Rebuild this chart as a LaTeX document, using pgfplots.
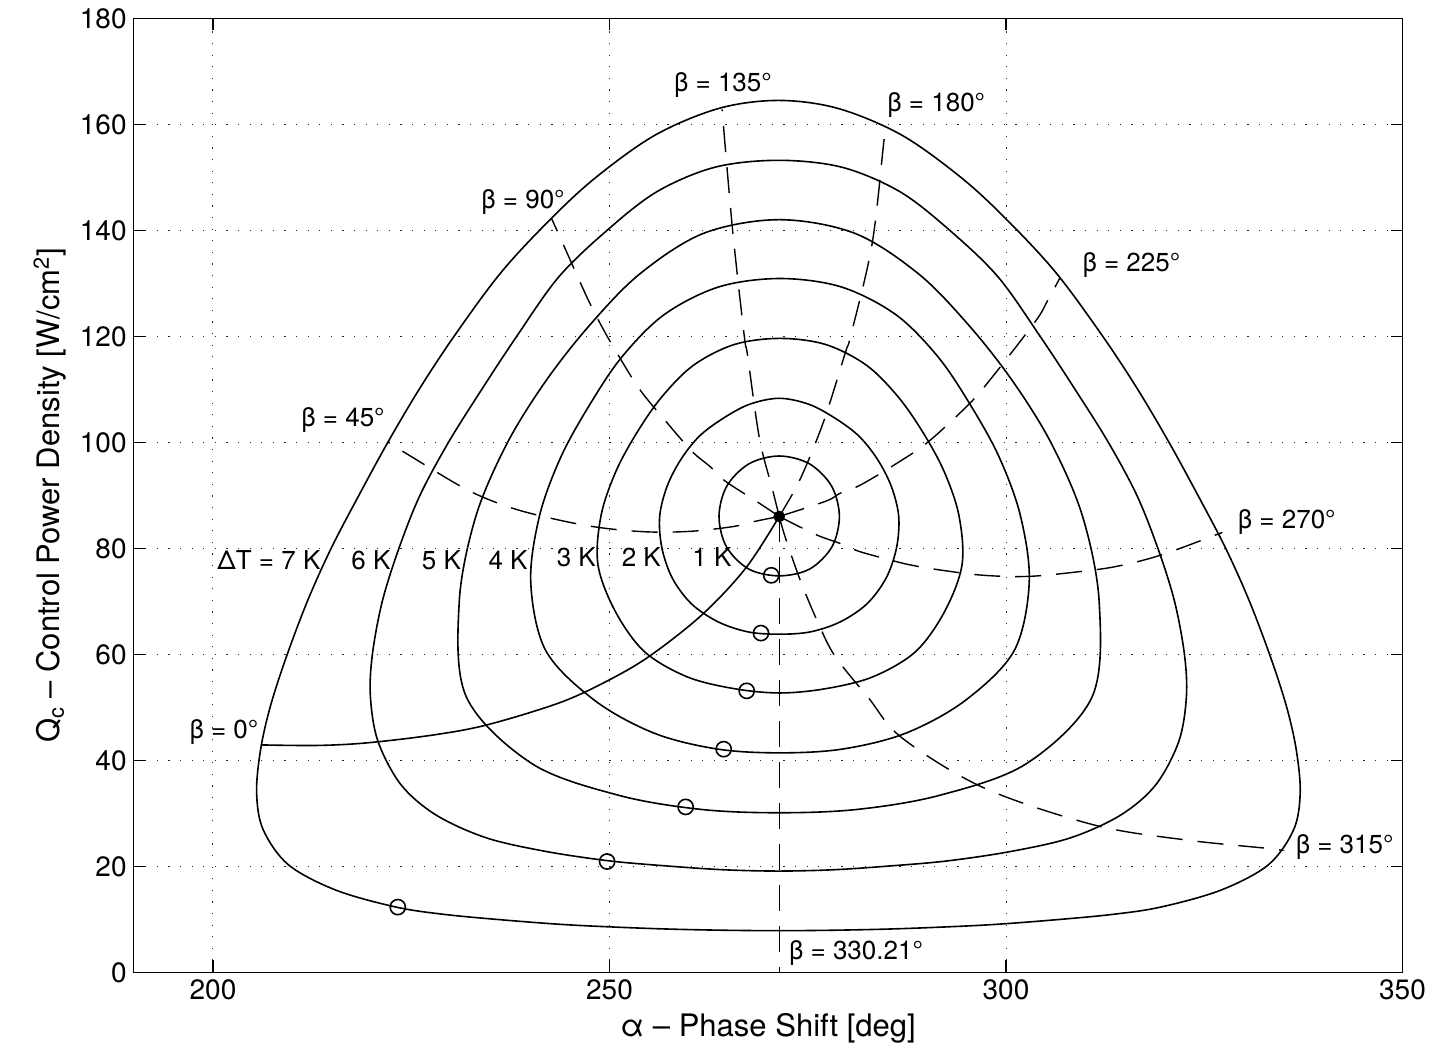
\documentclass[border=0pt]{standalone}
\usepackage{fontspec}
\setmainfont{TeX Gyre Heros}
\usepackage{pgfplots}
\pgfplotsset{compat=1.18}
\pgfplotsset{
  contour/.style={black, line width=0.8pt, smooth cycle, tension=0.55, mark=none},
  openline/.style={black, line width=0.8pt, smooth, tension=0.55, mark=none},
  betaline/.style={black, line width=0.7pt, smooth, tension=0.55, mark=none, dash pattern=on 13pt off 7.5pt},
}
\tikzset{lbl/.style={font=\fontsize{13}{15}\selectfont, inner sep=0pt, anchor=base west}}
\begin{document}
\begin{tikzpicture}
\begin{axis}[
  at={(0pt,0pt)}, anchor=south west,
  scale only axis, width=634.4pt, height=477pt,
  xmin=190, xmax=350, ymin=0, ymax=180,
  xtick={200,250,300,350}, ytick={0,20,...,180},
  tick align=inside, major tick length=6pt,
  grid=major,
  major grid style={black!85, line width=0.5pt, dash pattern=on 0.6pt off 5.2pt},
  axis line style={line width=0.6pt},
  tick style={line width=0.6pt, black},
  /pgf/number format/assume math mode=true,
  tick label style={font=\fontsize{14}{16}\selectfont},
  label style={font=\fontsize{15.5}{18}\selectfont},
  xlabel={α – Phase Shift [deg]},
  ylabel={Q\textsubscript{c} – Control Power Density [W/cm\textsuperscript{2}]},
  clip=false,
]
% Delta T = 1 K
\addplot[contour] coordinates {(271.4,97.41)(275.21,95.94)(278.0,91.75)(278.99,86.05)(278.06,80.3)(275.25,76.09)(271.4,74.8)(267.55,76.09)(264.74,80.3)(263.81,86.05)(264.8,91.75)(267.59,95.94)};
% 2 K
\addplot[contour] coordinates {(271.4,108.3)(275.18,107.15)(278.51,104.48)(281.48,101.13)(283.8,96.76)(285.53,91.71)(286.47,86.05)(286.2,80.12)(284.89,74.4)(282.46,69.51)(279.09,66.11)(275.31,64.22)(271.4,63.79)(267.49,64.22)(263.71,66.11)(260.34,69.51)(257.91,74.4)(256.6,80.12)(256.33,86.05)(257.27,91.71)(259.0,96.76)(261.32,101.13)(264.29,104.48)(267.62,107.15)};
% 3 K
\addplot[contour] coordinates {(271.5,119.6)(277.28,118.44)(282.44,114.5)(286.44,108.5)(289.57,101.76)(292.21,94.45)(294.07,86.15)(294.46,76.94)(292.3,68.18)(288.62,60.53)(283.23,55.76)(277.34,53.53)(271.5,52.7)(265.66,53.53)(259.77,55.76)(254.38,60.53)(250.7,68.18)(248.54,76.94)(248.93,86.15)(250.79,94.45)(253.43,101.76)(256.56,108.5)(260.56,114.5)(265.72,118.44)};
% 4 K
\addplot[contour] coordinates {(271.5,130.9)(279.23,129.31)(286.13,124.06)(291.47,116.04)(295.56,106.93)(299.13,97.23)(301.82,86.15)(302.93,73.55)(301.02,60.65)(294.83,51.25)(287.34,45.1)(279.39,42.12)(271.5,41.4)(263.61,42.12)(255.66,45.1)(248.17,51.25)(241.98,60.65)(240.07,73.55)(241.18,86.15)(243.87,97.23)(247.44,106.93)(251.53,116.04)(256.87,124.06)(263.77,129.31)};
% 5 K
\addplot[contour] coordinates {(271.4,142.0)(280.96,139.41)(289.02,131.72)(295.39,121.94)(300.86,111.5)(305.71,99.81)(309.65,86.05)(311.75,69.87)(310.86,51.97)(302.59,39.38)(291.71,33.42)(281.31,30.74)(271.4,30.1)(261.49,30.74)(251.09,33.42)(240.21,39.38)(231.94,51.97)(231.05,69.87)(233.15,86.05)(237.09,99.81)(241.94,111.5)(247.41,121.94)(253.78,131.72)(261.84,139.41)};
% 6 K
\addplot[contour] coordinates {(226.1,90)(229.7,100)(233.9,110)(238.3,120)(243.6,131.2)(249.7,140)(256.0,147.3)(263.3,151.9)(271.3,153.2)(279.3,151.9)(286.6,147.3)(292.9,140)(299.0,131.2)(304.3,120)(308.7,110)(312.9,100)(316.5,90)(319.15,80)(321.25,70)(322.5,60)(322.75,52)(321.8,43.6)(318.9,35.4)(314.5,29.7)(308.2,25.4)(300.8,22.85)(292.8,21.05)(285.7,20.1)(278.3,19.35)(271.3,19.1)(264.3,19.35)(256.9,20.1)(249.8,21.05)(241.8,22.85)(234.4,25.4)(228.1,29.7)(223.7,35.4)(220.8,43.6)(219.85,52)(220.1,60)(221.35,70)(223.45,80)};
% 7 K
\addplot[contour] coordinates {(214.9,80)(218.4,90)(222.05,100)(226.0,110)(230.4,120)(236.3,132)(242.5,142)(248.3,150)(255.8,158)(263.8,163)(271.3,164.5)(278.8,163)(286.8,158)(294.3,150)(300.1,142)(306.3,132)(312.2,120)(316.6,110)(320.55,100)(324.2,90)(327.7,80)(330.7,70)(333.4,59.3)(335.4,50)(336.6,42)(337.1,34)(336.3,27)(333.1,20.3)(327.1,15.5)(319.5,12.3)(313.3,10.9)(305.8,9.85)(298.3,9.0)(291.3,8.49)(284.8,8.14)(278.0,7.93)(271.3,7.85)(264.6,7.93)(257.8,8.14)(251.3,8.49)(244.3,9.0)(236.8,9.85)(229.3,10.9)(223.1,12.3)(215.5,15.5)(209.5,20.3)(206.3,27)(205.5,34)(206.0,42)(207.2,50)(209.2,59.3)(211.9,70)};
% beta = 0 (solid)
\addplot[openline] coordinates {(206.1,42.9)(213.2,42.8)(219.5,43.3)(227.9,44.8)(234.6,46.7)(243.6,50.8)(249.5,54.8)(255.0,59.6)(261.7,67.5)(267.2,76.3)(271.4,86.0)};
% beta = 45
\addplot[betaline] coordinates {(271.4,86.0)(268.4,85.1)(265.6,84.1)(260.2,83.2)(254.7,83.1)(248.8,83.9)(243.4,85.4)(237.7,87.6)(232.1,91.0)(224.9,97.4)(222.1,100.0)};
% beta = 90
\addplot[betaline] coordinates {(271.4,86.0)(268.9,88.5)(266.9,90.4)(264.4,92.9)(262.7,95.4)(260.4,98.3)(256.8,104.5)(253.7,110.2)(250.8,117.2)(249.7,120.0)(247.4,126.6)(244.0,137.9)(242.7,142.2)};
% beta = 135
\addplot[betaline] coordinates {(271.4,86.0)(270.5,91.4)(268.9,100.8)(267.4,116.5)(267.0,120.0)(265.5,140.4)(264.2,162.8)};
% beta = 180
\addplot[betaline] coordinates {(271.4,86.0)(273.5,91.4)(275.2,97.0)(277.3,105.2)(279.8,117.2)(280.4,120.0)(283.1,137.3)(284.6,156.8)(284.9,159.6)};
% beta = 225
\addplot[betaline] coordinates {(271.4,86.0)(277.3,88.9)(279.1,90.4)(281.6,91.9)(286.2,96.0)(290.2,100.1)(295.2,107.0)(298.0,111.8)(303.7,122.8)(305.2,126.6)(306.8,131.0)};
% beta = 270
\addplot[betaline] coordinates {(271.4,86.0)(276.0,82.6)(279.1,80.9)(281.5,79.4)(285.4,77.8)(287.8,76.9)(291.7,75.9)(297.2,74.9)(302.9,74.7)(309.3,75.6)(314,76.6)(319.5,78.7)(326.6,82.6)(327.1,82.9)};
% beta = 315
\addplot[betaline] coordinates {(271.4,86.0)(272.2,81.9)(274.1,73.8)(276.4,65.6)(278.5,59.5)(282.7,51.7)(286.9,44.2)(297.2,34.8)(311.1,27.8)(322.5,25.0)(333.5,23.3)(334.5,23.0)};
% beta = 330.21
\addplot[betaline] coordinates {(271.4,86.0)(271.4,0)};
% optimum points
\addplot[only marks, mark=o, mark size=3.8pt, mark options={line width=0.8pt, black}] coordinates {(270.4,74.9)(269.1,64.0)(267.3,53.1)(264.4,42.1)(259.6,31.2)(249.7,20.9)(223.3,12.3)};
\addplot[only marks, mark=*, mark size=2.7pt, mark options={black, fill=black}] coordinates {(271.4,86.0)};
% labels
\node[lbl] at (axis cs:258.1,166.2) {β = 135°};
\node[lbl] at (axis cs:285.0,162.5) {β = 180°};
\node[lbl] at (axis cs:233.8,144.2) {β = 90°};
\node[lbl] at (axis cs:309.6,132.3) {β = 225°};
\node[lbl] at (axis cs:211.1,103.0) {β = 45°};
\node[lbl] at (axis cs:329.2,83.8) {β = 270°};
\node[lbl] at (axis cs:336.5,22.5) {β = 315°};
\node[lbl] at (axis cs:197.0,44.1) {β = 0°};
\node[lbl] at (axis cs:272.6,2.4) {β = 330.21°};
\node[lbl] at (axis cs:200.5,76.0) {ΔT = 7 K};
\node[lbl] at (axis cs:217.4,76.0) {6 K};
\node[lbl] at (axis cs:226.3,76.0) {5 K};
\node[lbl] at (axis cs:234.7,76.0) {4 K};
\node[lbl] at (axis cs:243.3,76.5) {3 K};
\node[lbl] at (axis cs:251.5,76.5) {2 K};
\node[lbl] at (axis cs:260.4,76.5) {1 K};
\end{axis}
\pgfresetboundingbox
\useasboundingbox (-66.85pt,-40.35pt) rectangle (657.15pt,486.15pt);
\end{tikzpicture}
\end{document}
